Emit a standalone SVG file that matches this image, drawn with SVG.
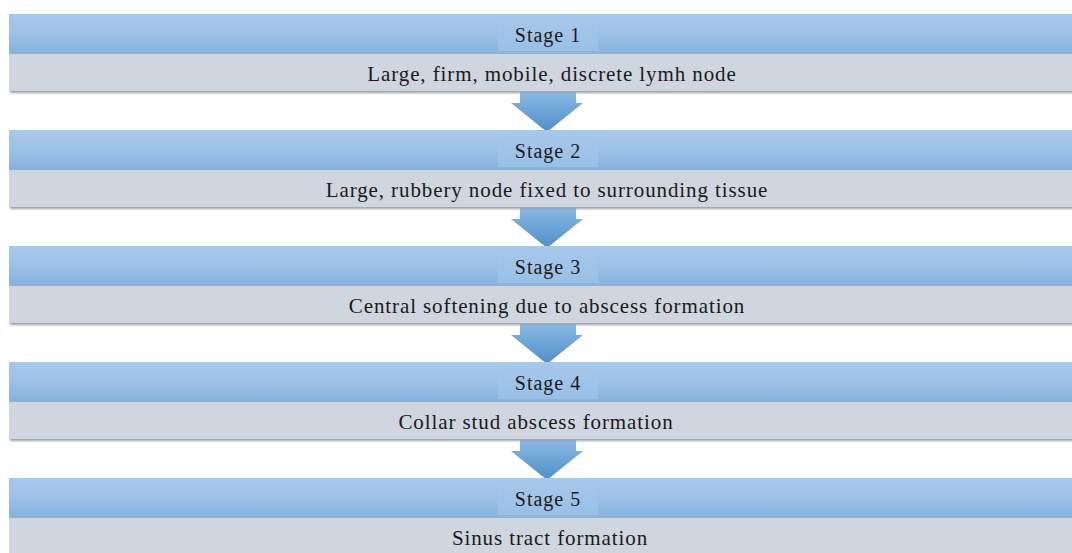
<svg xmlns="http://www.w3.org/2000/svg" width="1072" height="553" viewBox="0 0 1072 553">
<defs>
<linearGradient id="hdr" x1="0" y1="0" x2="0" y2="1">
<stop offset="0" stop-color="#a9c9ea"/>
<stop offset="0.5" stop-color="#9cc0e6"/>
<stop offset="1" stop-color="#86b2dd"/>
</linearGradient>
<linearGradient id="arr" x1="0" y1="0" x2="0" y2="1">
<stop offset="0" stop-color="#8ab8e2"/>
<stop offset="1" stop-color="#4f8fcc"/>
</linearGradient>
<filter id="sh" x="-0.05" y="-0.2" width="1.1" height="1.5">
<feGaussianBlur stdDeviation="1.2"/>
</filter>
<style>
.hdr{fill:url(#hdr)}
.body{fill:#cfd6e0}
.shadow{fill:#9aa0aa;filter:url(#sh)}
.lbl{fill:#a4c7ea;opacity:0.6}
.arrow{fill:url(#arr)}
.st{font-size:20px;letter-spacing:1px}
.ds{font-size:21px;letter-spacing:0.9px}
</style>
</defs>
<rect width="1072" height="553" fill="#ffffff"/>
<g id="connectors">
<path class="arrow" d="M520,92 H576 V103 H583 L547,132 L511,103 H520 Z"/>
<path class="arrow" d="M520,208 H576 V219 H583 L547,248 L511,219 H520 Z"/>
<path class="arrow" d="M520,324 H576 V335 H583 L547,364 L511,335 H520 Z"/>
<path class="arrow" d="M520,440 H576 V451 H583 L547,480 L511,451 H520 Z"/>
</g>
<g font-family="Liberation Serif, Times New Roman, serif" fill="#1a1a1a" text-anchor="middle">
<g id="stage1">
<rect class="shadow" x="10" y="88" width="1080" height="5"/>
<rect class="body" x="9" y="54" width="1080" height="37"/>
<rect class="hdr" x="9" y="14" width="1080" height="40"/>
<rect class="lbl" x="498" y="16" width="100" height="35"/>
<text class="st" x="548" y="42">Stage 1</text>
<text class="ds" x="552" y="81">Large, firm, mobile, discrete lymh node</text>
</g>
<g id="stage2">
<rect class="shadow" x="10" y="204" width="1080" height="5"/>
<rect class="body" x="9" y="170" width="1080" height="37"/>
<rect class="hdr" x="9" y="130" width="1080" height="40"/>
<rect class="lbl" x="498" y="132" width="100" height="35"/>
<text class="st" x="548" y="158">Stage 2</text>
<text class="ds" x="547" y="197">Large, rubbery node fixed to surrounding tissue</text>
</g>
<g id="stage3">
<rect class="shadow" x="10" y="320" width="1080" height="5"/>
<rect class="body" x="9" y="286" width="1080" height="37"/>
<rect class="hdr" x="9" y="246" width="1080" height="40"/>
<rect class="lbl" x="498" y="248" width="100" height="35"/>
<text class="st" x="548" y="274">Stage 3</text>
<text class="ds" x="547" y="313">Central softening due to abscess formation</text>
</g>
<g id="stage4">
<rect class="shadow" x="10" y="436" width="1080" height="5"/>
<rect class="body" x="9" y="402" width="1080" height="37"/>
<rect class="hdr" x="9" y="362" width="1080" height="40"/>
<rect class="lbl" x="498" y="364" width="100" height="35"/>
<text class="st" x="548" y="390">Stage 4</text>
<text class="ds" x="536" y="429">Collar stud abscess formation</text>
</g>
<g id="stage5">
<rect class="body" x="9" y="518" width="1080" height="40"/>
<rect class="hdr" x="9" y="478" width="1080" height="40"/>
<rect class="lbl" x="498" y="480" width="100" height="35"/>
<text class="st" x="548" y="506">Stage 5</text>
<text class="ds" x="550" y="545">Sinus tract formation</text>
</g>
</g>
</svg>
